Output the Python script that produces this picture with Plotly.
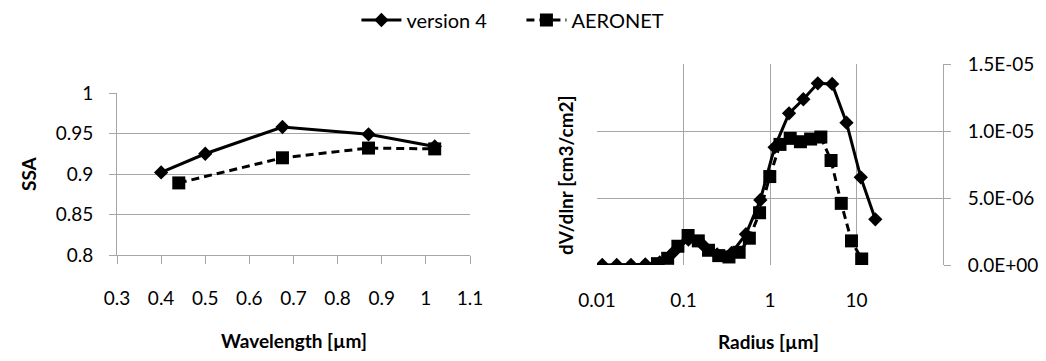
import plotly.graph_objects as go

# ---- Data: SSA vs wavelength ----
wl_v4 = [0.40, 0.50, 0.675, 0.87, 1.02]
ssa_v4 = [0.902, 0.925, 0.958, 0.949, 0.934]
wl_aer = [0.44, 0.675, 0.87, 1.02]
ssa_aer = [0.889, 0.920, 0.932, 0.931]

# ---- Data: size distribution ----
r_v4 = [0.0115, 0.0169, 0.0247, 0.0362, 0.0531, 0.0778, 0.114, 0.1675, 0.245, 0.36,
        0.527, 0.773, 1.13, 1.66, 2.43, 3.57, 5.23, 7.66, 11.2, 16.5]
dv_v4 = [0.0, 0.0, 0.0, 0.05e-6, 0.2e-6, 1.0e-6, 1.9e-6, 1.5e-6, 0.8e-6, 0.9e-6,
         2.3e-6, 4.85e-6, 8.78e-6, 1.132e-5, 1.237e-5, 1.356e-5, 1.351e-5, 1.062e-5, 6.54e-6, 3.41e-6]
r_aer = [0.05, 0.0656, 0.0861, 0.113, 0.1483, 0.1946, 0.2554, 0.3352, 0.4399, 0.5773,
         0.7576, 0.9942, 1.3048, 1.7123, 2.2471, 2.949, 3.8702, 5.0792, 6.6657, 8.7477, 11.4802]
dv_aer = [0.1e-6, 0.5e-6, 1.4e-6, 2.2e-6, 1.8e-6, 1.1e-6, 0.7e-6, 0.6e-6, 0.95e-6, 2.0e-6,
          3.9e-6, 6.6e-6, 9.0e-6, 9.45e-6, 9.2e-6, 9.4e-6, 9.55e-6, 7.8e-6, 4.6e-6, 1.8e-6, 0.45e-6]

ssa_ticks = [0.8, 0.85, 0.9, 0.95, 1.0]
ssa_ticktext = ["0.8", "0.85", "0.9", "0.95", "1"]
wl_ticks = [0.3, 0.4, 0.5, 0.6, 0.7, 0.8, 0.9, 1.0, 1.1]
wl_ticktext = ["0.3", "0.4", "0.5", "0.6", "0.7", "0.8", "0.9", "1", "1.1"]
r_ticks = [0.01, 0.1, 1, 10, 100]
r_ticktext = ["0.01", "0.1", "1", "10", ""]
dv_ticks = [0, 5e-6, 1e-5, 1.5e-5]
dv_ticktext = ["0.0E+00", "5.0E-06", "1.0E-05", "1.5E-05"]

FONT = "Lato"
GRID = "#a6a6a6"
W, H = 1046, 361

fig = go.Figure()

line_v4 = dict(color="black", width=3)
line_aer = dict(color="black", width=3, dash="8px,5px")
mk_v4 = dict(symbol="diamond", size=11, color="black")
mk_aer = dict(symbol="square", size=13, color="black")

fig.add_trace(go.Scatter(x=wl_v4, y=ssa_v4, mode="lines+markers", name="version 4",
                         line=line_v4, marker=mk_v4, xaxis="x", yaxis="y"))
fig.add_trace(go.Scatter(x=wl_aer, y=ssa_aer, mode="lines+markers", name="AERONET",
                         line=line_aer, marker=mk_aer, xaxis="x", yaxis="y"))
fig.add_trace(go.Scatter(x=r_aer, y=dv_aer, mode="lines+markers", name="AERONET",
                         line=line_aer, marker=mk_aer, xaxis="x2", yaxis="y2", showlegend=False))
fig.add_trace(go.Scatter(x=r_v4, y=dv_v4, mode="lines+markers", name="version 4",
                         line=line_v4, marker=mk_v4, xaxis="x2", yaxis="y2", showlegend=False))

tickfont = dict(family=FONT, size=19, color="black")

fig.update_layout(
    width=W, height=H,
    margin=dict(l=0, r=0, t=0, b=0),
    paper_bgcolor="white", plot_bgcolor="white",
    font=dict(family=FONT, size=19, color="black"),
    showlegend=True,
    legend=dict(orientation="h", x=0.4985, y=1 - 20 / H, xanchor="center", yanchor="middle",
                font=dict(family=FONT, size=20, color="black"), itemwidth=40,
                entrywidth=110, entrywidthmode="pixels",
                bgcolor="rgba(0,0,0,0)"),
    xaxis=dict(domain=[117 / W, 470 / W], anchor="y", range=[0.3, 1.1],
               tickvals=wl_ticks, ticktext=wl_ticktext, tickfont=tickfont,
               showgrid=False, zeroline=False, showline=True, linecolor=GRID, linewidth=1,
               ticks="outside", ticklen=8, tickcolor=GRID, ticklabelstandoff=18,
               automargin=False),
    yaxis=dict(domain=[1 - 255 / H, 1 - 93 / H], anchor="x", range=[0.8, 1.0],
               tickvals=ssa_ticks, ticktext=ssa_ticktext, tickfont=tickfont,
               showgrid=True, gridcolor=GRID, gridwidth=1, zeroline=False,
               showline=True, linecolor=GRID, linewidth=1,
               ticks="outside", ticklen=7, tickcolor=GRID, ticklabelstandoff=12,
               automargin=False),
    xaxis2=dict(domain=[597 / W, 943 / W], anchor="y2", type="log", range=[-2, 2],
                tickvals=r_ticks, ticktext=r_ticktext, tickfont=tickfont,
                showgrid=True, gridcolor=GRID, gridwidth=1, zeroline=False,
                showline=False, ticks="", ticklabelstandoff=22, automargin=False),
    yaxis2=dict(domain=[1 - 265 / H, 1 - 64 / H], anchor="x2", side="right", range=[0, 1.5e-5],
                tickvals=dv_ticks, ticktext=dv_ticktext, tickfont=tickfont,
                showgrid=True, gridcolor=GRID, gridwidth=1, zeroline=False,
                showline=True, linecolor=GRID, linewidth=1,
                ticks="outside", ticklen=7, tickcolor=GRID, ticklabelstandoff=13,
                automargin=False),
)

title_font = dict(family=FONT, size=19, color="black", weight="bold")
fig.add_annotation(text="Wavelength [µm]", x=293.5 / W, y=1 - 340 / H, xref="paper", yref="paper",
                   showarrow=False, xanchor="center", yanchor="middle", font=title_font)
fig.add_annotation(text="SSA", x=28 / W, y=1 - 174 / H, xref="paper", yref="paper",
                   showarrow=False, xanchor="center", yanchor="middle", textangle=-90, font=title_font)
fig.add_annotation(text="Radius [µm]", x=768 / W, y=1 - 341 / H, xref="paper", yref="paper",
                   showarrow=False, xanchor="center", yanchor="middle", font=title_font)
fig.add_annotation(text="dV/dlnr [cm3/cm2]", x=565 / W, y=1 - 175 / H, xref="paper", yref="paper",
                   showarrow=False, xanchor="center", yanchor="middle", textangle=-90, font=title_font)

fig.write_html("out.html")
